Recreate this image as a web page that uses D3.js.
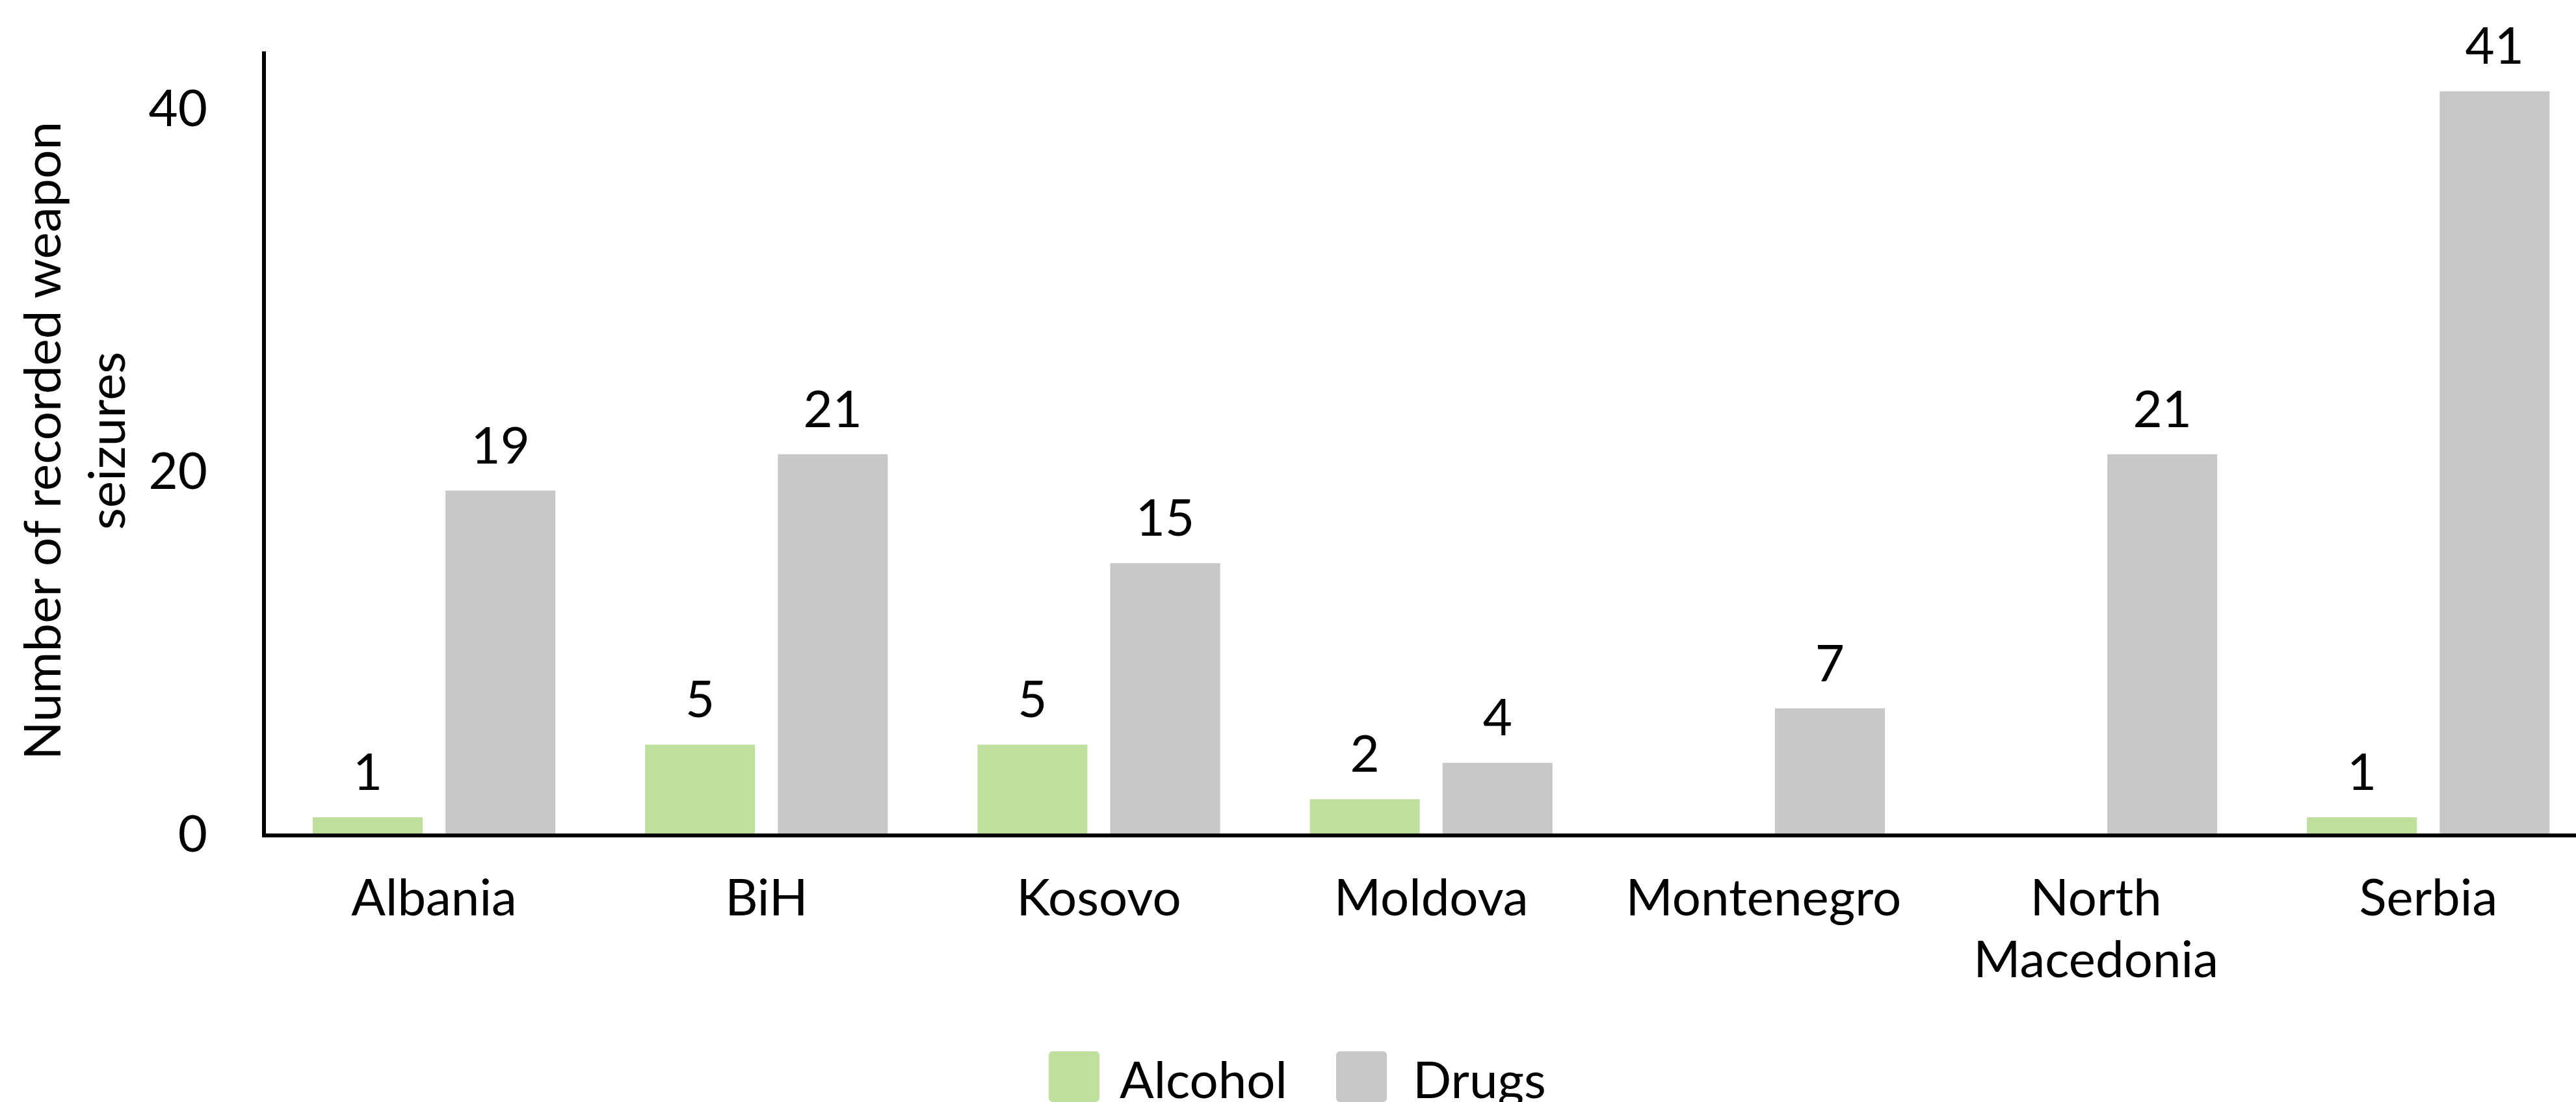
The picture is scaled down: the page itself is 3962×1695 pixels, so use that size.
<!DOCTYPE html>
<html>
<head>
<meta charset="utf-8">
<script src="https://cdn.jsdelivr.net/npm/d3@7"></script>
<style>
  html, body { margin: 0; padding: 0; background: #ffffff; }
  svg { display: block; }
  text { font-family: Lato, "Open Sans", sans-serif; fill: #000; }
</style>
</head>
<body>
<svg id="chart" width="3962" height="1695"></svg>
<script>
// Recorded weapon seizures that also involved alcohol or drugs, by territory
const categories = ["Albania", "BiH", "Kosovo", "Moldova", "Montenegro", "North Macedonia", "Serbia"];
const categoryLines = [["Albania"], ["BiH"], ["Kosovo"], ["Moldova"], ["Montenegro"], ["North", "Macedonia"], ["Serbia"]];
const seriesNames = ["Alcohol", "Drugs"];
const alcohol = [1, 5, 5, 2, null, null, 1];
const drugs = [19, 21, 15, 4, 7, 21, 41];
const yTicks = [0, 20, 40];
const yTitle = ["Number of recorded weapon", "seizures"];

const colors = { Alcohol: "#bfdf9c", Drugs: "#c7c7c7" };
const fontSize = 78;

const svg = d3.select("#chart");

const x0Axis = 406, yBase = 1285, yTop = 79;

const x = d3.scaleBand().domain(categories).range([412, 412 + 511.2 * categories.length]).padding(0);
const xs = d3.scaleBand().domain(seriesNames).range([69, x.bandwidth() - 69]).paddingInner(0.172);
const y = d3.scaleLinear().domain([0, 43.2]).range([yBase, yTop]);

const rows = categories.map((c, i) => ({ cat: c, lines: categoryLines[i], values: { Alcohol: alcohol[i], Drugs: drugs[i] } }));

// bars
const groups = svg.append("g").selectAll("g").data(rows).join("g")
  .attr("transform", d => `translate(${x(d.cat)},0)`);

groups.selectAll("rect")
  .data(d => seriesNames.filter(s => d.values[s] != null).map(s => ({ s, v: d.values[s] })))
  .join("rect")
  .attr("x", d => xs(d.s))
  .attr("width", xs.bandwidth())
  .attr("y", d => y(d.v))
  .attr("height", d => y(0) - y(d.v))
  .attr("fill", d => colors[d.s]);

// value labels
groups.selectAll("text.val")
  .data(d => seriesNames.filter(s => d.values[s] != null).map(s => ({ s, v: d.values[s] })))
  .join("text")
  .attr("class", "val")
  .attr("x", d => xs(d.s) + xs.bandwidth() / 2)
  .attr("y", d => y(d.v) - 42)
  .attr("text-anchor", "middle")
  .style("font-size", fontSize + "px")
  .text(d => d.v);

// y axis (line + tick labels, no tick marks)
const yAxis = d3.axisLeft(y).tickValues(yTicks).tickSize(0).tickPadding(87).tickFormat(d3.format("d"));
const gy = svg.append("g").attr("transform", `translate(${x0Axis},0)`).call(yAxis);
gy.select(".domain").remove();
gy.selectAll(".tick text").style("font-size", fontSize + "px").style("font-family", "Lato, sans-serif").attr("fill", "#000");
svg.append("line")
  .attr("x1", x0Axis).attr("x2", x0Axis)
  .attr("y1", yTop).attr("y2", yBase + 3)
  .attr("stroke", "#000").attr("stroke-width", 6);

// x baseline
svg.append("line")
  .attr("x1", x0Axis - 3).attr("x2", 3962)
  .attr("y1", yBase).attr("y2", yBase)
  .attr("stroke", "#000").attr("stroke-width", 6);

// category labels
const catText = svg.append("g").selectAll("text").data(rows).join("text")
  .attr("text-anchor", "middle")
  .attr("transform", d => `translate(${x(d.cat) + x.bandwidth() / 2},${yBase + 123})`)
  .style("font-size", fontSize + "px");
catText.selectAll("tspan").data(d => d.lines).join("tspan")
  .attr("x", 0)
  .attr("y", (d, i) => i * 95)
  .text(d => d);

// y axis title
const title = svg.append("text")
  .attr("transform", "translate(0,678) rotate(-90)")
  .attr("text-anchor", "middle")
  .style("font-size", fontSize + "px");
title.selectAll("tspan").data(yTitle).join("tspan")
  .attr("x", 0)
  .attr("y", (d, i) => 93 + i * 99)
  .text(d => d);

// legend
const legendItems = [
  { name: "Alcohol", sx: 1613, tx: 1722 },
  { name: "Drugs", sx: 2055, tx: 2173 }
];
const lg = svg.append("g").selectAll("g").data(legendItems).join("g");
lg.append("rect")
  .attr("x", d => d.sx).attr("y", 1617)
  .attr("width", 78).attr("height", 78)
  .attr("rx", 6)
  .attr("fill", d => colors[d.name]);
lg.append("text")
  .attr("x", d => d.tx).attr("y", 1689)
  .style("font-size", fontSize + "px")
  .text(d => d.name);
</script>
</body>
</html>
